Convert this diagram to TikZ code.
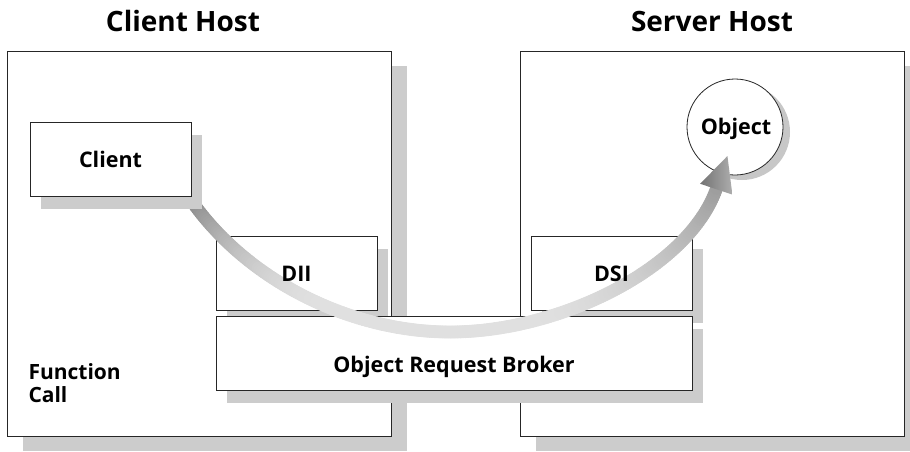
\documentclass[tikz,border=0pt]{standalone}
\usepackage{fontspec}
\setmainfont{Open Sans}
\usetikzlibrary{shadows,decorations.markings,calc}

\pgfdeclarelayer{arrowlayer}
\pgfdeclarelayer{toplayer}
\pgfsetlayers{main,arrowlayer,toplayer}

\tikzset{
  host/.style={draw=black!85, line width=1pt, fill=white,
    minimum width=384pt, minimum height=385pt,
    drop shadow={shadow xshift=16pt, shadow yshift=-15pt, fill=black!20, opacity=1}},
  part/.style={draw=black!85, line width=1pt, fill=white,
    minimum width=161pt, minimum height=74pt,
    drop shadow={shadow xshift=11pt, shadow yshift=-13pt, fill=black!20, opacity=1}},
  obj/.style={draw=black!85, line width=0.8pt, fill=white, circle, minimum size=96pt,
    drop shadow={shadow xshift=7pt, shadow yshift=-5pt, fill=black!22, opacity=1}},
  hosttitle/.style={font=\fontsize{28}{32}\selectfont\bfseries},
  lbl/.style={font=\fontsize{21.5}{25}\selectfont\bfseries},
  callarrow/.style={decorate, decoration={markings,
    mark=between positions 0 and 1 step 0.004 with {
      \pgfmathsetmacro\f{\pgfkeysvalueof{/pgf/decoration/mark info/sequence number}*0.004}
      \pgfmathsetmacro\d{\f<0.3 ? 12+38*(1-\f/0.3)^2 : (\f<0.6 ? 12 : 12+26*((\f-0.6)/0.4)^2)}
      \fill[black!\d] (0,0) circle (6.5pt);
    }}},
  callhead/.style={decorate, decoration={markings,
    mark=at position 0.999 with {
      \shade[left color=black!55, right color=black!32] (-2,17) -- (33,0) -- (-2,-17) -- cycle;
    }}}
}

\begin{document}
\begin{tikzpicture}[x=1pt,y=-1pt]
\fill[white] (0,0) rectangle (910,451);
\useasboundingbox (0,0) rectangle (910,451);

% hosts
\node[host] (clienthost) at (199,243.5) {};
\node[host] (serverhost) at (712,243.5) {};
\node[hosttitle] (clienttitle) at (183,21) {Client Host};
\node[hosttitle] (servertitle) at (712,21) {Server Host};

% parts
\node[part] (dii) at (296.5,273) {};
\node[part] (dsi) at (611.5,273) {};
\node[part, minimum width=476pt] (orb) at (454,353) {};
\node[obj] (object) at (735,127) {};

\begin{pgfonlayer}{toplayer}
  \node[part] (client) at (110.5,159) {};
  \node[lbl] (clientlabel) at (client) {Client};
  \node[lbl] (diilabel) at ($(dii)+(0,1)$) {DII};
  \node[lbl] (dsilabel) at ($(dsi)+(0,1)$) {DSI};
  \node[lbl] (orblabel) at ($(orb)+(0,14)$) {Object Request Broker};
  \node[lbl] (objectlabel) at ($(object)+(1,2)$) {Object};
  \node[lbl, align=left, anchor=north west, font=\fontsize{21}{23}\selectfont\bfseries]
    (calllabel) at (25,360) {Function\\Call};
\end{pgfonlayer}

% the call
\begin{pgfonlayer}{arrowlayer}
  \path[callarrow] ($(client.south east)+(-3,0)$) .. controls (245,280) and (350,332) .. (450,332)
    .. controls (560,332) and (690,268) .. ($(object.center)+(-18,60)$);
  \path[callhead] (450,332) .. controls (560,332) and (690,268) .. ($(object.center)+(-18,60)$);
\end{pgfonlayer}
\end{tikzpicture}
\end{document}
